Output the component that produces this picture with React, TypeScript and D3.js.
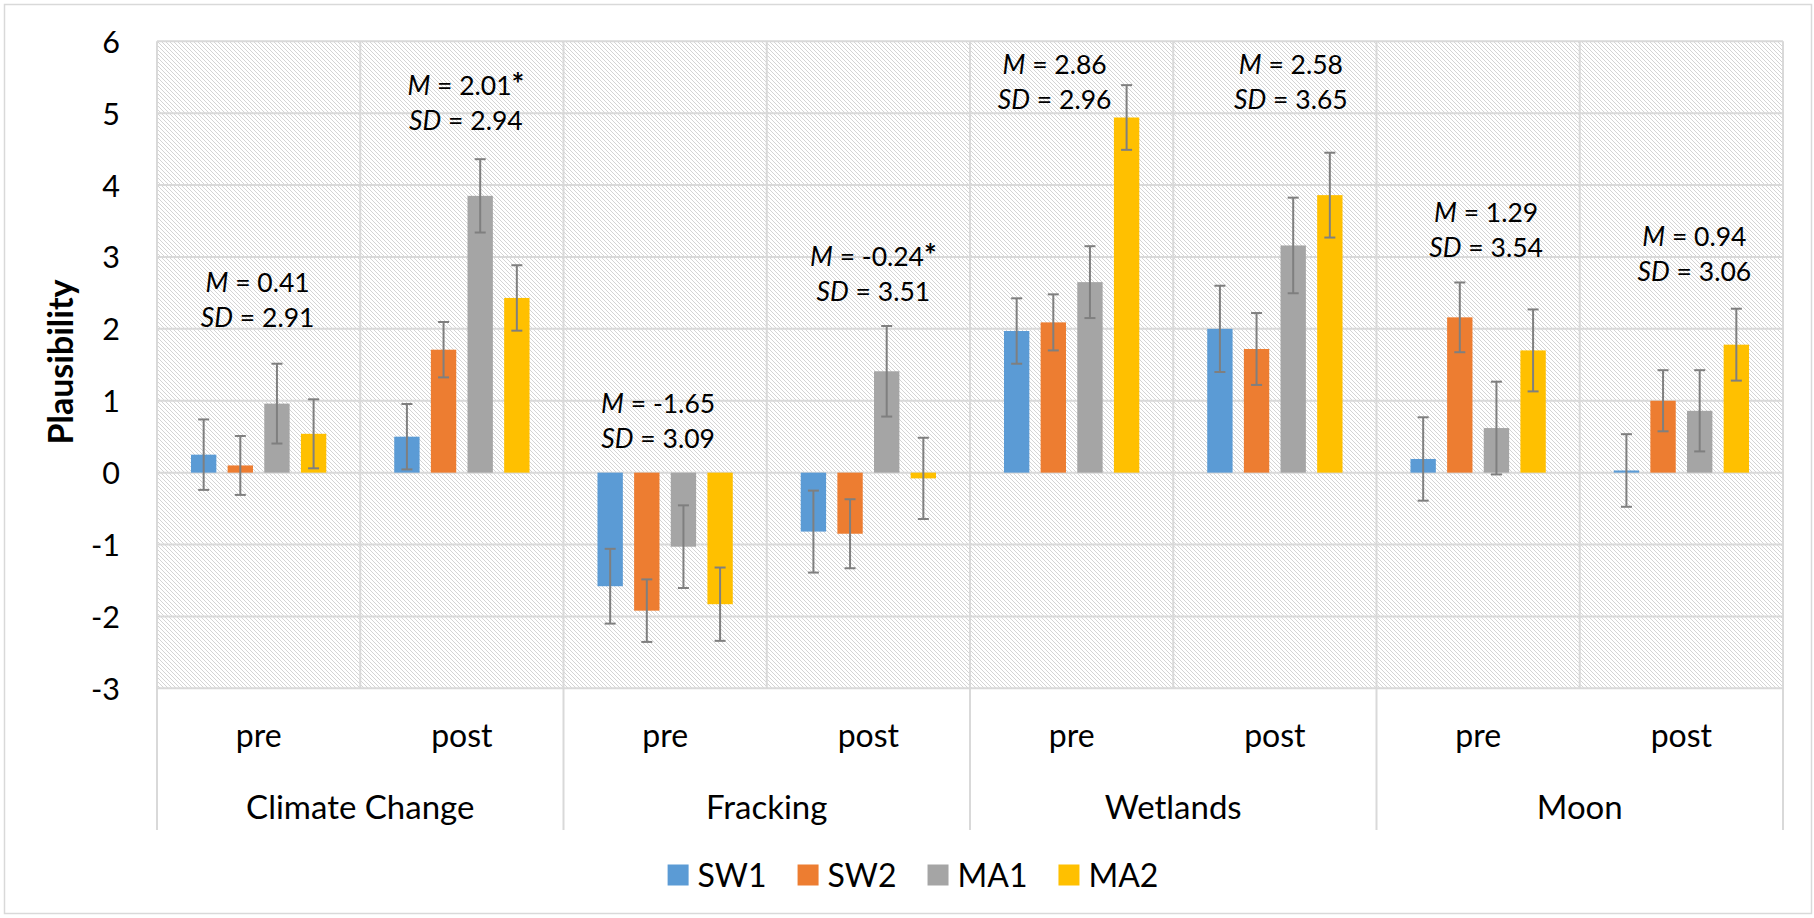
import React from 'react';
import * as d3 from 'd3';

const topics = ['Climate Change', 'Fracking', 'Wetlands', 'Moon'];
const phases = ['pre', 'post'];
const series = ['SW1', 'SW2', 'MA1', 'MA2'];
const colors = ['#5B9BD5', '#ED7D31', '#A5A5A5', '#FFC000'];
const yTicks = [-3, -2, -1, 0, 1, 2, 3, 4, 5, 6];

// slot order: CC pre, CC post, Fr pre, Fr post, Wet pre, Wet post, Moon pre, Moon post
const sw1Means = [0.25, 0.5, -1.58, -0.82, 1.97, 2.0, 0.19, 0.03];
const sw2Means = [0.1, 1.71, -1.92, -0.85, 2.09, 1.72, 2.16, 1.0];
const ma1Means = [0.96, 3.85, -1.03, 1.41, 2.65, 3.16, 0.62, 0.86];
const ma2Means = [0.54, 2.43, -1.83, -0.08, 4.94, 3.86, 1.7, 1.78];

const sw1Err = [0.49, 0.455, 0.52, 0.57, 0.455, 0.6, 0.58, 0.505];
const sw2Err = [0.41, 0.385, 0.435, 0.48, 0.39, 0.5, 0.485, 0.425];
const ma1Err = [0.555, 0.51, 0.575, 0.63, 0.5, 0.665, 0.645, 0.565];
const ma2Err = [0.48, 0.455, 0.51, 0.565, 0.45, 0.59, 0.57, 0.5];

const annotM = ['0.41', '2.01', '-1.65', '-0.24', '2.86', '2.58', '1.29', '0.94'];
const annotSD = ['2.91', '2.94', '3.09', '3.51', '2.96', '3.65', '3.54', '3.06'];
const annotStar = [false, true, false, true, false, false, false, false];
// vertical anchor (data units) of the "M" line
const annotY = [2.64, 5.39, 0.96, 3.0, 5.68, 5.68, 3.62, 3.29];
// horizontal nudge of each text box (px)
const annotDx = [-1, 4, -7, 5, -17, 16, 8, 13];

const meansBySeries = [sw1Means, sw2Means, ma1Means, ma2Means];
const errBySeries = [sw1Err, sw2Err, ma1Err, ma2Err];

const FONT = 'Lato, "Open Sans", sans-serif';

let _ctx: CanvasRenderingContext2D | null = null;
function measure(text: string, font: string): number {
  if (!_ctx) _ctx = document.createElement('canvas').getContext('2d');
  if (!_ctx) return text.length * 16;
  _ctx.font = font;
  return _ctx.measureText(text).width;
}

export default function App() {
  const W = 1814;
  const H = 918;
  const plotL = 157;
  const plotR = 1783;
  const plotT = 41.3;
  const plotB = 688.3;

  const slotKeys = topics.flatMap((t) => phases.map((p) => t + '|' + p));
  const x0 = d3.scaleBand<string>().domain(slotKeys).range([plotL, plotR]).paddingInner(0).paddingOuter(0);
  const sw = x0.bandwidth();
  const x1 = d3
    .scaleBand<string>()
    .domain(series)
    .range([sw * 0.1672, sw * 0.8328])
    .paddingInner(0.308)
    .paddingOuter(0);
  const y = d3.scaleLinear().domain([-3, 6]).range([plotB, plotT]);

  const groupW = sw * 2;

  // legend layout
  const legFontSize = 32;
  const legFont = `${legFontSize}px Lato`;
  const sq = 21;
  const gapSqText = 9;
  const gapItems = 31;
  const widths = series.map((s) => measure(s, legFont));
  const total = widths.reduce((a, b) => a + b, 0) + series.length * (sq + gapSqText) + (series.length - 1) * gapItems;
  let lx = 913 - total / 2;
  const legendItems = series.map((s, i) => {
    const item = { s, i, x: lx };
    lx += sq + gapSqText + widths[i] + gapItems;
    return item;
  });
  const legCy = 875;

  const errColor = '#7F7F7F';
  const grid = '#D9D9D9';

  return (
    <svg
      width={W}
      height={H}
      style={{ position: 'absolute', left: 0, top: 0, background: '#fff' }}
      fontFamily={FONT}
    >
      <defs>
        <pattern id="hatch" patternUnits="userSpaceOnUse" width={4} height={4}>
          <rect x={0} y={0} width={4} height={4} fill="#ffffff" />
          {[0, 1, 2, 3].map((k) => (
            <rect key={k} x={k} y={k} width={1} height={1} fill="#D4D4D4" />
          ))}
        </pattern>
      </defs>
      <rect x={0} y={0} width={W} height={H} fill="#fff" />
      <rect x={4.5} y={4.5} width={1807} height={909} fill="#fff" stroke={grid} strokeWidth={1.5} />

      {/* plot background */}
      <rect x={plotL} y={plotT} width={plotR - plotL} height={plotB - plotT} fill="url(#hatch)" />

      {/* horizontal gridlines */}
      {yTicks.map((t) => (
        <line key={'h' + t} x1={plotL} x2={plotR} y1={y(t)} y2={y(t)} stroke={grid} strokeWidth={2} />
      ))}
      {/* vertical slot dividers */}
      {d3.range(slotKeys.length + 1).map((i) => {
        const xx = plotL + i * sw;
        const ext = i % 2 === 0 ? 830 : plotB;
        return <line key={'v' + i} x1={xx} x2={xx} y1={plotT} y2={ext} stroke={grid} strokeWidth={2} />;
      })}

      {/* y tick labels */}
      {yTicks.map((t) => (
        <text key={'yt' + t} x={120} y={y(t) + 11.5} textAnchor="end" fontSize={30.5} fill="#000">
          {t}
        </text>
      ))}

      {/* y title */}
      <text
        transform={`translate(73,362) rotate(-90)`}
        textAnchor="middle"
        fontSize={34}
        fontWeight="bold"
        fill="#000"
      >
        Plausibility
      </text>

      {/* bars */}
      {slotKeys.map((k, si) =>
        series.map((s, j) => {
          const v = meansBySeries[j][si];
          const bx = (x0(k) as number) + (x1(s) as number);
          const top = Math.min(y(v), y(0));
          const h = Math.abs(y(v) - y(0));
          return <rect key={k + s} x={bx} y={top} width={x1.bandwidth()} height={Math.max(h, 1.5)} fill={colors[j]} />;
        })
      )}

      {/* error bars */}
      {slotKeys.map((k, si) =>
        series.map((s, j) => {
          const v = meansBySeries[j][si];
          const e = errBySeries[j][si];
          const cx = (x0(k) as number) + (x1(s) as number) + x1.bandwidth() / 2;
          const y1 = y(v + e);
          const y2 = y(v - e);
          return (
            <g key={'e' + k + s} stroke={errColor} strokeWidth={2}>
              <line x1={cx} x2={cx} y1={y1} y2={y2} />
              <line x1={cx - 5.5} x2={cx + 5.5} y1={y1} y2={y1} />
              <line x1={cx - 5.5} x2={cx + 5.5} y1={y2} y2={y2} />
            </g>
          );
        })
      )}

      {/* annotations */}
      {slotKeys.map((k, si) => {
        const cx = (x0(k) as number) + sw / 2 + annotDx[si];
        const cy = y(annotY[si]);
        return (
          <g key={'a' + k} fontSize={26.5} fill="#000">
            <text x={cx} y={cy + 9.5} textAnchor="middle">
              <tspan fontStyle="italic">M</tspan>
              {' = ' + annotM[si]}
              {annotStar[si] ? (
                <tspan fontWeight="bold" fontSize={30}>
                  *
                </tspan>
              ) : null}
            </text>
            <text x={cx} y={cy + 35 + 9.5} textAnchor="middle">
              <tspan fontStyle="italic">SD</tspan>
              {' = ' + annotSD[si]}
            </text>
          </g>
        );
      })}

      {/* category axis labels */}
      {slotKeys.map((k, si) => (
        <text key={'p' + k} x={(x0(k) as number) + sw / 2} y={747} textAnchor="middle" fontSize={32} fill="#000">
          {phases[si % 2]}
        </text>
      ))}
      {topics.map((t, ti) => (
        <text key={'c' + t} x={plotL + ti * groupW + groupW / 2} y={819} textAnchor="middle" fontSize={33} fill="#000">
          {t}
        </text>
      ))}

      {/* legend */}
      {legendItems.map((it) => (
        <g key={'l' + it.s}>
          <rect x={it.x} y={legCy - sq / 2} width={sq} height={sq} fill={colors[it.i]} />
          <text x={it.x + sq + gapSqText} y={legCy + 11.5} fontSize={legFontSize} fill="#000">
            {it.s}
          </text>
        </g>
      ))}
    </svg>
  );
}
